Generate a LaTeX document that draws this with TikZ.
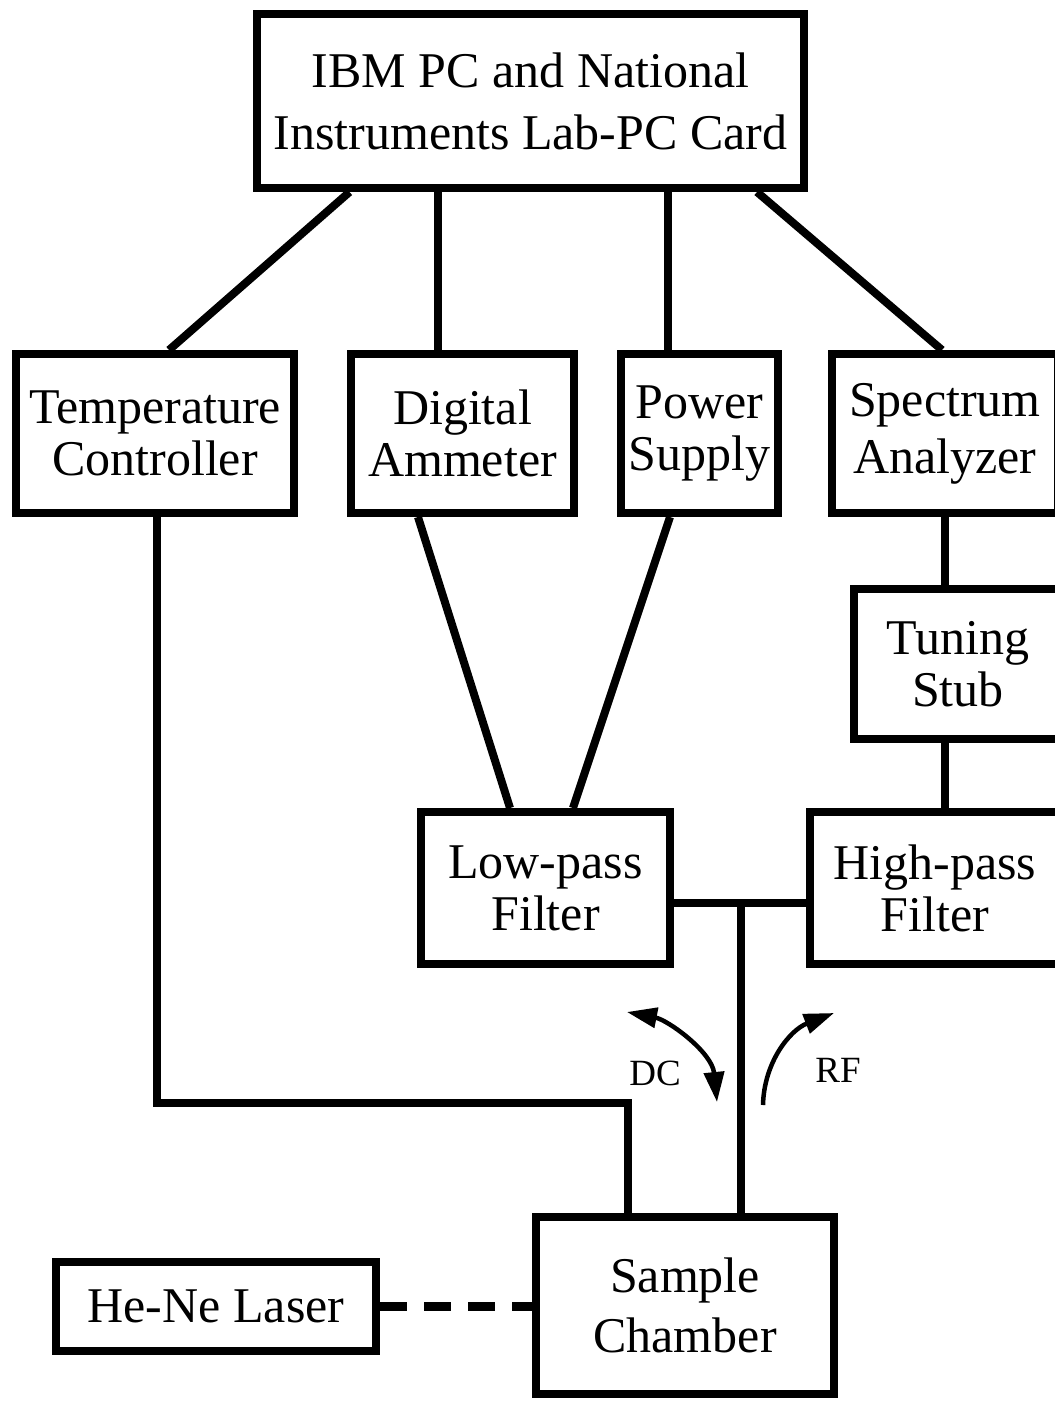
\documentclass[tikz,border=0pt]{standalone}
\usepackage{fontspec}
\setmainfont{Liberation Serif}
\usetikzlibrary{arrows.meta}
\begin{document}
\begin{tikzpicture}[x=1pt,y=-1pt,
  box/.style={draw,line width=8pt,inner sep=0pt,align=center,font=\fontsize{50}{52}\selectfont},
  wire/.style={line width=8pt},
  beam/.style={line width=9pt,dash pattern=on 27pt off 17pt},
  flow/.style={line width=4.5pt},
  tip/.tip={Triangle[length=30pt,width=20pt]},
  lbl/.style={font=\fontsize{37}{40}\selectfont,inner sep=0pt}]
\useasboundingbox (0,0) rectangle (1055,1401);
\clip (0,0) rectangle (1055,1401);
% boxes
\node[box,minimum width=547pt,minimum height=174pt,font=\fontsize{50}{62}\selectfont] (ibm) at (530.5,101) {IBM PC and National\\Instruments Lab-PC Card};
\node[box,minimum width=278pt,minimum height=159pt] (temp) at (155,433.5) {Temperature\\Controller};
\node[box,minimum width=223pt,minimum height=159pt] (amm) at (462.5,433.5) {Digital\\Ammeter};
\node[box,minimum width=157pt,minimum height=159pt] (pow) at (699.5,433.5) {Power\\Supply};
\node[box,minimum width=226pt,minimum height=159pt,font=\fontsize{50}{57}\selectfont] (spec) at (945,433.5) {Spectrum\\Analyzer};
\node[box,minimum width=208pt,minimum height=150pt] (tun) at (958,664) {Tuning\\Stub};
\node[box,minimum width=249pt,minimum height=152pt] (lp) at (545.5,888) {Low-pass\\Filter};
\node[box,minimum width=250pt,minimum height=152pt] (hp) at (935,888) {High-pass\\Filter};
\node[box,minimum width=298pt,minimum height=177pt,font=\fontsize{50}{60}\selectfont] (sc) at (685,1305.5) {Sample\\Chamber};
\node[box,minimum width=320pt,minimum height=89pt] (laser) at (216,1306.5) {He-Ne Laser};
% connectors
\draw[wire] ([xshift=-181pt]ibm.south) -- ([xshift=14pt]temp.north);
\draw[wire] ([xshift=-92.5pt]ibm.south) -- ([xshift=-24.5pt]amm.north);
\draw[wire] ([xshift=137.5pt]ibm.south) -- ([xshift=-31.5pt]pow.north);
\draw[wire] ([xshift=226.5pt]ibm.south) -- ([xshift=-3pt]spec.north);
\draw[wire] (spec.south) -- ([xshift=-13pt]tun.north);
\draw[wire] ([xshift=-13pt]tun.south) -- ([xshift=10pt]hp.north);
\draw[wire] ([xshift=-44.5pt]amm.south) -- ([xshift=-35.5pt]lp.north);
\draw[wire] ([xshift=-29.5pt]pow.south) -- ([xshift=27.5pt]lp.north);
\draw[wire] ([yshift=-15pt]lp.east) -- ([yshift=-15pt]hp.west);
\coordinate (jn) at (741,903);
\draw[wire] (jn) -- (jn |- sc.north);
\coordinate (tc) at (628,1103);
\draw[wire] ([xshift=2pt]temp.south) |- (tc) -- (tc |- sc.north);
\draw[beam] (laser.east) -- (laser.east -| sc.west);
% DC / RF arrows
\coordinate (dcA) at (627,1012);
\coordinate (dcB) at (717,1102);
\draw[flow,{tip}-{tip}] (dcA) .. controls (668,1020) and (712,1052) .. (dcB);
\coordinate (rfA) at (763,1105);
\coordinate (rfB) at (834,1013);
\draw[flow,-{tip}] (rfA) .. controls (764,1062) and (790,1030) .. (rfB);
\node[lbl] (dc) at (655,1073) {DC};
\node[lbl] (rf) at (838,1070) {RF};
\end{tikzpicture}
\end{document}
